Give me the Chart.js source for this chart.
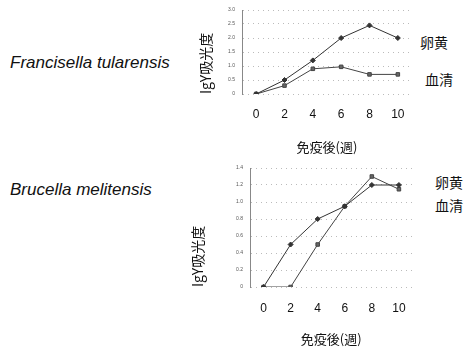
<!DOCTYPE html>
<html>
<head>
<meta charset="utf-8">
<script src="https://cdn.jsdelivr.net/npm/chart.js@4"></script>
<style>
  body { margin: 0; background: #fff; width: 467px; height: 349px; position: relative; overflow: hidden; }
  .sp { position: absolute; font-family: "Liberation Sans", Arial, sans-serif; font-style: italic; font-size: 17px; line-height: 18px; color: #111; }
  .lab { position: absolute; font-family: "Noto Sans CJK JP", sans-serif; font-size: 14px; line-height: 14px; color: #111; }
  .box { position: absolute; }
</style>
</head>
<body>
<div class="sp" style="left:10px; top:54px;">Francisella tularensis</div>
<div class="sp" style="left:10px; top:181px;">Brucella melitensis</div>
<div class="lab" style="left:420px; top:35px;">卵黄</div>
<div class="lab" style="left:425px; top:72px;">血清</div>
<div class="lab" style="left:435px; top:175px;">卵黄</div>
<div class="lab" style="left:435px; top:198px;">血清</div>
<div class="box" style="left:185px; top:0px; width:235px; height:160px;"><canvas id="chart-top"></canvas></div>
<div class="box" style="left:185px; top:158px; width:235px; height:191px;"><canvas id="chart-bottom"></canvas></div>
<script>
const weeks = [0, 2, 4, 6, 8, 10];
const xTicks = [0, 2, 4, 6, 8, 10];
// Francisella tularensis
const ftYolk = [0, 0.5, 1.2, 2.0, 2.45, 2.0];
const ftSerum = [0, 0.3, 0.9, 0.97, 0.7, 0.7];
// Brucella melitensis
const bmYolk = [0, 0.5, 0.8, 0.95, 1.2, 1.2];
const bmSerum = [0, 0, 0.5, 0.95, 1.3, 1.15];

function pts(vals) {
  return weeks.map((w, i) => ({ x: w, y: vals[i] }));
}

// s: fixed sizes so the plot box lands where the scan has it
function makeChart(id, yolk, serum, yMax, yStep, s) {
  const ctx = document.getElementById(id).getContext('2d');
  return new Chart(ctx, {
    type: 'scatter',
    data: {
      datasets: [{
        label: '卵黄',
        data: pts(yolk),
        showLine: true,
        borderColor: '#333',
        backgroundColor: '#333',
        borderWidth: 1,
        pointStyle: 'rectRot',
        pointRadius: 2.5
      }, {
        label: '血清',
        data: pts(serum),
        showLine: true,
        borderColor: '#444',
        backgroundColor: '#666',
        borderWidth: 1,
        pointStyle: 'rect',
        pointRadius: 2.5
      }]
    },
    options: {
      responsive: true,
      maintainAspectRatio: false,
      animation: false,
      layout: { padding: s.pad },
      plugins: { legend: { display: false }, tooltip: { enabled: false } },
      scales: {
        x: {
          type: 'linear',
          min: -1,
          max: 11,
          afterBuildTicks: axis => { axis.ticks = xTicks.map(v => ({ value: v })); },
          afterFit: axis => { axis.height = s.xH; },
          grid: { display: false, drawTicks: false },
          border: { display: false },
          ticks: { color: '#111', padding: s.xTickPad, font: { family: 'Liberation Sans', size: 12 } },
          title: { display: true, text: '免疫後(週)', color: '#111', padding: { top: 0, bottom: s.xTitlePad }, font: { family: 'Noto Sans CJK JP', size: 13 } }
        },
        y: {
          min: 0,
          max: yMax,
          afterFit: axis => { axis.width = s.yW; },
          ticks: { stepSize: yStep, color: '#555', padding: 7, font: { family: 'Liberation Sans', size: 5 } },
          grid: { color: '#bbb', lineWidth: 1, drawTicks: false },
          border: { color: '#888', dash: [1, 4] },
          title: { display: true, text: 'IgY吸光度', align: 'start', color: '#111', padding: { top: s.yTitlePad, bottom: 0 }, font: { family: 'Noto Sans CJK JP', size: 14 } }
        }
      }
    }
  });
}

makeChart('chart-top', ftYolk, ftSerum, 3, 0.5,
  { pad: { top: 5, right: 8, left: 0, bottom: 0 }, xH: 66, yW: 57, xTickPad: 13, xTitlePad: 5, yTitlePad: 12 });
makeChart('chart-bottom', bmYolk, bmSerum, 1.4, 0.2,
  { pad: { top: 7, right: 2, left: 0, bottom: 0 }, xH: 62, yW: 65, xTickPad: 14, xTitlePad: 2, yTitlePad: 4 });
</script>
</body>
</html>
